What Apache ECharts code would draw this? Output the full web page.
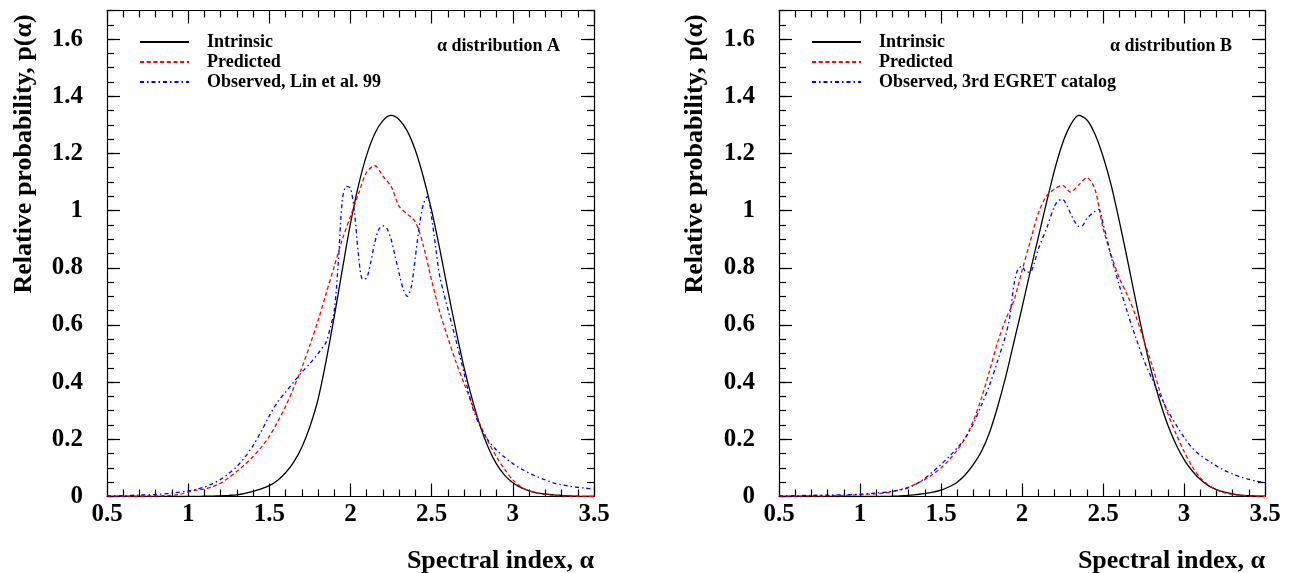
<!DOCTYPE html>
<html><head><meta charset="utf-8">
<script src="https://cdn.jsdelivr.net/npm/echarts@6/dist/echarts.min.js"></script>
<style>html,body{margin:0;padding:0;background:#fff}#c{width:1289px;height:573px}</style>
</head><body><div id="c"></div><script>
// ---------- data ----------
const xTickLabels = ['0.5','1','1.5','2','2.5','3','3.5'];
const yTickLabels = ['0','0.2','0.4','0.6','0.8','1','1.2','1.4','1.6'];

const alphaGrid = [0.5,0.55,0.6,0.65,0.7,0.75,0.8,0.85,0.9,0.95,1.0,1.05,1.1,1.15,1.2,1.25,1.3,1.35,1.4,1.45,1.5,1.55,1.6,1.65,1.7,1.75,1.8,1.85,1.9,1.95,2.0,2.05,2.1,2.15,2.2,2.25,2.3,2.35,2.4,2.45,2.5,2.55,2.6,2.65,2.7,2.75,2.8,2.85,2.9,2.95,3.0,3.05,3.1,3.15,3.2,3.25,3.3,3.35,3.4,3.45,3.5];

// Panel A
const intrinsicA = [0,0,0,0,0,0,0,0,0,0,0.0002,0.0005,0.001,0.0015,0.0025,0.004,0.006,0.011,0.018,0.027,0.038,0.056,0.083,0.12,0.172,0.245,0.34,0.475,0.63,0.795,0.955,1.09,1.195,1.27,1.315,1.333,1.318,1.278,1.21,1.115,1.0,0.865,0.72,0.58,0.45,0.34,0.245,0.17,0.113,0.074,0.048,0.031,0.02,0.013,0.009,0.006,0.004,0.002,0.001,0.0005,0.0002];
const predictedA = [0.001,0.001,0.001,0.001,0.001,0.002,0.002,0.003,0.004,0.008,0.016,0.022,0.026,0.034,0.047,0.066,0.088,0.112,0.14,0.172,0.21,0.26,0.315,0.38,0.45,0.53,0.615,0.71,0.805,0.90,0.98,1.06,1.135,1.157,1.12,1.085,1.015,0.988,0.96,0.875,0.755,0.645,0.555,0.47,0.395,0.322,0.25,0.19,0.138,0.095,0.058,0.034,0.02,0.012,0.007,0.004,0.002,0.001,0.001,0.0005,0.0002];
const observedA_x = [0.5,0.6,0.7,0.8,0.9,1.0,1.05,1.1,1.15,1.2,1.25,1.3,1.35,1.4,1.45,1.5,1.55,1.6,1.65,1.7,1.75,1.8,1.85,1.875,1.9,1.925,1.95,1.975,2.0,2.025,2.05,2.075,2.1,2.125,2.15,2.175,2.2,2.225,2.25,2.275,2.3,2.325,2.35,2.375,2.4,2.425,2.45,2.475,2.5,2.525,2.55,2.6,2.65,2.7,2.75,2.8,2.85,2.9,2.95,3.0,3.05,3.1,3.15,3.2,3.25,3.3,3.35,3.4,3.45,3.5];
const observedA = [0.002,0.003,0.005,0.007,0.012,0.02,0.025,0.033,0.045,0.06,0.08,0.105,0.138,0.178,0.228,0.282,0.33,0.365,0.40,0.435,0.465,0.50,0.54,0.59,0.65,0.82,1.04,1.085,1.078,0.99,0.84,0.76,0.765,0.82,0.89,0.935,0.947,0.937,0.9,0.84,0.78,0.725,0.70,0.735,0.84,0.95,1.025,1.05,0.975,0.87,0.77,0.655,0.545,0.43,0.315,0.243,0.195,0.162,0.137,0.115,0.097,0.082,0.069,0.058,0.048,0.041,0.036,0.032,0.029,0.026];

// Panel B
const intrinsicB = [0,0,0,0,0,0,0,0,0,0,0,0,0,0.0005,0.001,0.002,0.004,0.007,0.01,0.015,0.022,0.034,0.05,0.076,0.112,0.158,0.225,0.315,0.42,0.54,0.66,0.785,0.905,1.025,1.14,1.235,1.3,1.333,1.318,1.268,1.19,1.09,0.965,0.83,0.69,0.555,0.435,0.335,0.25,0.183,0.13,0.09,0.06,0.038,0.024,0.015,0.009,0.005,0.003,0.0015,0.001];
const predictedB = [0.001,0.001,0.001,0.002,0.002,0.002,0.003,0.003,0.004,0.005,0.006,0.008,0.009,0.012,0.017,0.024,0.033,0.045,0.06,0.078,0.1,0.128,0.162,0.205,0.265,0.345,0.44,0.54,0.62,0.685,0.79,0.89,0.99,1.05,1.075,1.088,1.065,1.09,1.115,1.075,0.94,0.845,0.765,0.705,0.635,0.55,0.465,0.37,0.29,0.22,0.158,0.105,0.066,0.04,0.024,0.013,0.007,0.004,0.002,0.001,0.0005];
const observedB_x = [0.5,0.6,0.7,0.8,0.9,1.0,1.1,1.2,1.25,1.3,1.35,1.4,1.45,1.5,1.55,1.6,1.65,1.7,1.75,1.8,1.85,1.9,1.925,1.95,1.975,2.0,2.025,2.05,2.075,2.1,2.15,2.2,2.225,2.25,2.275,2.3,2.325,2.35,2.375,2.4,2.45,2.475,2.5,2.525,2.55,2.6,2.65,2.7,2.75,2.8,2.85,2.9,2.95,3.0,3.05,3.1,3.15,3.2,3.25,3.3,3.35,3.4,3.45,3.5];
const observedB = [0.002,0.003,0.004,0.005,0.006,0.008,0.012,0.018,0.023,0.031,0.045,0.063,0.087,0.112,0.14,0.17,0.205,0.255,0.32,0.39,0.475,0.565,0.63,0.74,0.795,0.805,0.785,0.785,0.815,0.865,0.935,1.015,1.035,1.039,1.02,0.99,0.962,0.945,0.948,0.972,0.998,1.004,0.955,0.9,0.84,0.74,0.645,0.56,0.48,0.415,0.355,0.3,0.252,0.208,0.17,0.145,0.125,0.107,0.091,0.079,0.068,0.06,0.053,0.048];

const seriesNames = ['Intrinsic','Predicted','Observed, Lin et al. 99','Observed, 3rd EGRET catalog'];
const panelLabels = ['\u03b1 distribution A','\u03b1 distribution B'];
const xTitle = 'Spectral index, \u03b1';
const yTitle = 'Relative probability, p(\u03b1)';

// ---------- chart ----------
const FONT = '"Liberation Serif","Times New Roman",serif';
const pair = (xs, ys) => xs.map((x, i) => [x, ys[i]]);
const lineCol = '#000';

function xAxes(g, top) {
  return {
    gridIndex: g, type: 'value', position: top ? 'top' : 'bottom',
    min: 0.5, max: 3.5, interval: 0.5,
    axisLine: { show: true, onZero: false, lineStyle: { color: lineCol, width: 1.2 } },
    axisTick: { show: true, inside: true, length: 13, lineStyle: { color: lineCol, width: 1.2 } },
    minorTick: { show: true, splitNumber: 5, length: 7, lineStyle: { color: lineCol, width: 1.2 } },
    axisLabel: { show: !top, margin: 6, color: '#000', fontFamily: FONT, fontWeight: 'bold', fontSize: 25,
      showMinLabel: true, showMaxLabel: true,
      formatter: v => { const s = (+v.toFixed(2)).toString(); return xTickLabels.includes(s) ? s : ''; } },
    splitLine: { show: false }, minorSplitLine: { show: false }
  };
}
function yAxes(g, right, minor) {
  return {
    gridIndex: g, type: 'value', position: right ? 'right' : 'left',
    min: 0, max: 1.7, interval: minor ? 0.05 : 0.2,
    axisLine: { show: !minor, onZero: false, lineStyle: { color: lineCol, width: 1.2 } },
    axisTick: { show: true, inside: true, length: minor ? 7 : 13, lineStyle: { color: lineCol, width: 1.2 } },
    axisLabel: { show: !right && !minor, margin: 24, color: '#000', fontFamily: FONT, fontWeight: 'bold', fontSize: 25,
      formatter: v => { const s = (+v.toFixed(2)).toString(); return yTickLabels.includes(s) ? s : ''; } },
    splitLine: { show: false }
  };
}
function mkSeries(name, data, xi, yi, kind) {
  const ls = { width: 1.3 };
  if (kind === 0) { ls.color = '#000'; ls.type = 'solid'; }
  if (kind === 1) { ls.color = '#ff0000'; ls.type = [4, 2.7]; }
  if (kind === 2) { ls.color = '#0000ff'; ls.type = [4, 3, 1.5, 3]; }
  return { name, type: 'line', xAxisIndex: xi, yAxisIndex: yi, data, showSymbol: false, symbol: 'none',
    smooth: 0.3, lineStyle: ls, itemStyle: { color: ls.color }, animation: false, clip: true };
}
const legendText = { fontFamily: FONT, fontWeight: 'bold', fontSize: 18, color: '#000', lineHeight: 18, padding: [0, 0, 0, 13] };
const legendBase = { top: 33, orient: 'vertical', itemWidth: 49, itemHeight: 14, itemGap: 2, padding: 0,
  textStyle: legendText, selectedMode: false, itemStyle: { opacity: 0, borderWidth: 0 } };
const option = {
  animation: false,
  grid: [
    { left: 107, top: 10.5, width: 487, height: 486, outerBoundsMode: 'none' },
    { left: 779, top: 10.5, width: 486, height: 486, outerBoundsMode: 'none' }
  ],
  xAxis: [xAxes(0, false), xAxes(0, true), xAxes(1, false), xAxes(1, true)],
  yAxis: [yAxes(0, false, false), yAxes(0, false, true), yAxes(0, true, false), yAxes(0, true, true),
          yAxes(1, false, false), yAxes(1, false, true), yAxes(1, true, false), yAxes(1, true, true)],
  legend: [
    Object.assign({ left: 139, data: [seriesNames[0], seriesNames[1], seriesNames[2]] }, legendBase),
    Object.assign({ left: 811, data: [seriesNames[0], seriesNames[1], seriesNames[3]] }, legendBase)
  ],
  series: [
    mkSeries(seriesNames[0], pair(alphaGrid, intrinsicA), 0, 0, 0),
    mkSeries(seriesNames[1], pair(alphaGrid, predictedA), 0, 0, 1),
    mkSeries(seriesNames[2], pair(observedA_x, observedA), 0, 0, 2),
    mkSeries(seriesNames[0], pair(alphaGrid, intrinsicB), 2, 4, 0),
    mkSeries(seriesNames[1], pair(alphaGrid, predictedB), 2, 4, 1),
    mkSeries(seriesNames[3], pair(observedB_x, observedB), 2, 4, 2)
  ],
  graphic: [
    { type: 'text', x: 24, y: 154, rotation: Math.PI / 2, style: { text: yTitle, font: 'bold 26px ' + FONT, fill: '#000', align: 'center', verticalAlign: 'middle' } },
    { type: 'text', x: 695, y: 154, rotation: Math.PI / 2, style: { text: yTitle, font: 'bold 26px ' + FONT, fill: '#000', align: 'center', verticalAlign: 'middle' } },
    { type: 'text', x: 594, y: 561, style: { text: xTitle, font: 'bold 26px ' + FONT, fill: '#000', align: 'right', verticalAlign: 'middle' } },
    { type: 'text', x: 1265, y: 561, style: { text: xTitle, font: 'bold 26px ' + FONT, fill: '#000', align: 'right', verticalAlign: 'middle' } },
    { type: 'text', x: 560, y: 46.7, style: { text: panelLabels[0], font: 'bold 18px ' + FONT, fill: '#000', align: 'right', verticalAlign: 'middle' } },
    { type: 'text', x: 1232, y: 46.7, style: { text: panelLabels[1], font: 'bold 18px ' + FONT, fill: '#000', align: 'right', verticalAlign: 'middle' } }
  ]
};
const chart = echarts.init(document.getElementById('c'), null, { renderer: 'canvas' });
chart.setOption(option);
</script></body></html>
